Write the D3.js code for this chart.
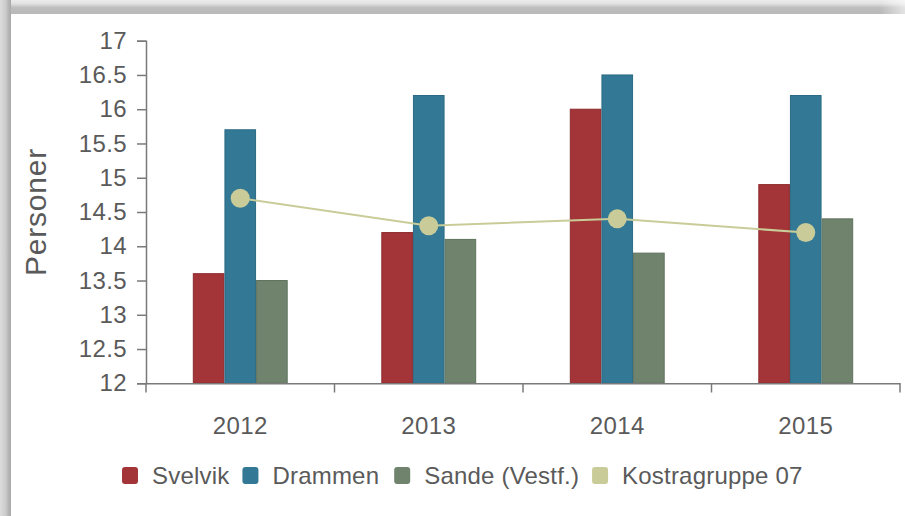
<!DOCTYPE html>
<html>
<head>
<meta charset="utf-8">
<script src="https://cdn.jsdelivr.net/npm/d3@7"></script>
<style>
  body { margin: 0; background: #fff; }
  svg { display: block; font-family: "Liberation Sans", Arial, sans-serif; }
</style>
</head>
<body>
<svg id="chart" width="905" height="516"></svg>
<script>
// Data
const years = ["2012", "2013", "2014", "2015"];
const barSeries = ["Svelvik", "Drammen", "Sande (Vestf.)"];
const svelvik = [13.6, 14.2, 16.0, 14.9];
const drammen = [15.7, 16.2, 16.5, 16.2];
const sande = [13.5, 14.1, 13.9, 14.4];
const kostra = [14.7, 14.3, 14.4, 14.2];
const lineSeries = "Kostragruppe 07";
const yTicks = [12, 12.5, 13, 13.5, 14, 14.5, 15, 15.5, 16, 16.5, 17];

const colors = {
    "Svelvik": "#a33437",
    "Drammen": "#337996",
    "Sande (Vestf.)": "#6f836d",
    "Kostragruppe 07": "#c9cc98"
};
const strokeColors = {
    "Svelvik": "#8f2c2f",
    "Drammen": "#2b6a85",
    "Sande (Vestf.)": "#5f735e"
};

const svg = d3.select("#chart");
const defs = svg.append("defs");

// frame shadow on top and left
const gTop = defs.append("linearGradient").attr("id", "gtop")
    .attr("x1", 0).attr("y1", 0).attr("x2", 0).attr("y2", 1);
gTop.append("stop").attr("offset", "0%").attr("stop-color", "#ececec");
gTop.append("stop").attr("offset", "25%").attr("stop-color", "#e2e2e2");
gTop.append("stop").attr("offset", "55%").attr("stop-color", "#bdbdbd");
gTop.append("stop").attr("offset", "100%").attr("stop-color", "#b9b9b9");
const gLeft = defs.append("linearGradient").attr("id", "gleft")
    .attr("x1", 0).attr("y1", 0).attr("x2", 1).attr("y2", 0);
gLeft.append("stop").attr("offset", "0%").attr("stop-color", "#dcdcdc");
gLeft.append("stop").attr("offset", "50%").attr("stop-color", "#cccccc");
gLeft.append("stop").attr("offset", "80%").attr("stop-color", "#b4b4b4");
gLeft.append("stop").attr("offset", "100%").attr("stop-color", "#a9a9a9");
const gFade = defs.append("linearGradient").attr("id", "gfade")
    .attr("x1", 0).attr("y1", 0).attr("x2", 1).attr("y2", 0);
gFade.append("stop").attr("offset", "0%").attr("stop-color", "#fff").attr("stop-opacity", 0);
gFade.append("stop").attr("offset", "100%").attr("stop-color", "#fff").attr("stop-opacity", 0.6);

svg.append("rect").attr("x", 0).attr("y", 0).attr("width", 905).attr("height", 14).attr("fill", "url(#gtop)");
svg.append("rect").attr("x", 880).attr("y", 0).attr("width", 25).attr("height", 14).attr("fill", "url(#gfade)");
svg.append("rect").attr("x", 0).attr("y", 0).attr("width", 11).attr("height", 516).attr("fill", "url(#gleft)");

// scales
const x0 = d3.scaleBand().domain(years).range([146, 900]).padding(0);
const x1 = d3.scaleBand().domain(barSeries).range([0, x0.bandwidth()])
    .paddingInner(0).paddingOuter(1.48);
const y = d3.scaleLinear().domain([12, 17]).range([383.3, 40.7]);

const barValues = { "Svelvik": svelvik, "Drammen": drammen, "Sande (Vestf.)": sande };

// bars
const groups = svg.append("g").selectAll("g")
    .data(years)
    .join("g")
    .attr("transform", d => `translate(${x0(d)},0)`);

groups.selectAll("rect")
    .data((yr, i) => barSeries.map(s => ({ series: s, value: barValues[s][i] })))
    .join("rect")
    .attr("x", d => x1(d.series) + 0.5)
    .attr("y", d => y(d.value))
    .attr("width", x1.bandwidth() - 1)
    .attr("height", d => y(12) - y(d.value))
    .attr("fill", d => colors[d.series])
    .attr("stroke", d => strokeColors[d.series])
    .attr("stroke-width", 1);

// axes
const axisColor = "#7a7a7a";
const textColor = "#5a5a5a";
const fontSize = "24px";

const yAxis = svg.append("g")
    .attr("transform", "translate(146,0)")
    .call(d3.axisLeft(y).tickValues(yTicks).tickSize(9).tickPadding(10).tickFormat(d3.format("")));
const xAxis = svg.append("g")
    .attr("transform", "translate(0,383.3)")
    .call(d3.axisBottom(x0).tickSize(0).tickPadding(34));

// x tick marks at band boundaries
const xBounds = years.map(d => x0(d)).concat([x0.range()[1]]);
svg.append("g").selectAll("line")
    .data(xBounds)
    .join("line")
    .attr("x1", d => d).attr("x2", d => d)
    .attr("y1", 383.3).attr("y2", 392.5)
    .attr("stroke", axisColor).attr("stroke-width", 1.5);

[yAxis, xAxis].forEach(a => {
    a.select(".domain").attr("stroke", axisColor).attr("stroke-width", 1.5);
    a.selectAll(".tick line").attr("stroke", axisColor).attr("stroke-width", 1.5);
    a.selectAll(".tick text")
        .attr("fill", textColor)
        .style("font-size", fontSize)
        .style("letter-spacing", "0.4px")
        .style("font-family", "'Liberation Sans', Arial, sans-serif");
});

// line series
const line = d3.line()
    .x((d, i) => x0(years[i]) + x0.bandwidth() / 2)
    .y(d => y(d));

svg.append("path")
    .datum(kostra)
    .attr("fill", "none")
    .attr("stroke", colors[lineSeries])
    .attr("stroke-width", 2)
    .attr("d", line);

svg.append("g").selectAll("circle")
    .data(kostra)
    .join("circle")
    .attr("cx", (d, i) => x0(years[i]) + x0.bandwidth() / 2)
    .attr("cy", d => y(d))
    .attr("r", 9.5)
    .attr("fill", colors[lineSeries]);

// y axis title
svg.append("text")
    .attr("transform", "translate(46,212) rotate(-90)")
    .attr("text-anchor", "middle")
    .attr("fill", textColor)
    .style("font-size", "30px")
    .style("letter-spacing", "0.8px")
    .text("Personer");

// legend
const legendItems = barSeries.concat([lineSeries]);
const legendGaps = [13, 15, 13, 0];
const legend = svg.append("g");
let lx = 122;
legendItems.forEach((name, i) => {
    legend.append("rect")
        .attr("x", lx).attr("y", 467)
        .attr("width", 16).attr("height", 17)
        .attr("rx", 3)
        .attr("fill", colors[name]);
    const t = legend.append("text")
        .attr("x", lx + 30).attr("y", 484)
        .attr("fill", textColor)
        .style("font-size", fontSize)
        .style("letter-spacing", "0.2px")
        .text(name);
    lx += 30 + t.node().getComputedTextLength() + legendGaps[i];
});
</script>
</body>
</html>
